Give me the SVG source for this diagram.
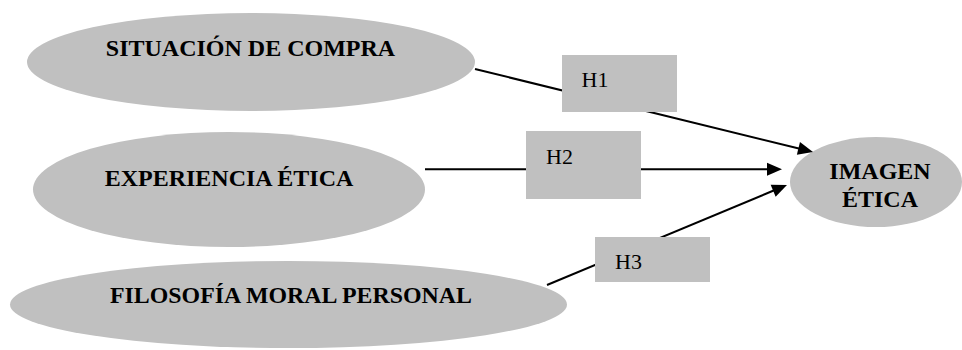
<svg xmlns="http://www.w3.org/2000/svg" width="962" height="350" viewBox="0 0 962 350">
  <style>
    .node { fill: #c0c0c0; stroke: none; }
    .lbl { font-family: "Liberation Serif", "Times New Roman", serif; font-size: 24px; font-weight: bold; fill: #000; text-anchor: middle; }
    .hyp { font-family: "Liberation Serif", "Times New Roman", serif; font-size: 22px; fill: #000; }
    .conn { stroke: #000; stroke-width: 2; fill: none; marker-end: url(#arrow); }
  </style>
  <defs>
    <marker id="arrow" markerUnits="userSpaceOnUse" markerWidth="15" markerHeight="13" refX="11" refY="6.5" orient="auto" overflow="visible">
      <path d="M0,0 L15,6.5 L0,13 Z" fill="#000"/>
    </marker>
  </defs>
  <rect width="962" height="350" fill="#fff"/>

  <g id="situacion-de-compra">
    <ellipse class="node" cx="251" cy="62" rx="224" ry="49"/>
    <text class="lbl" x="250.5" y="56">SITUACIÓN DE COMPRA</text>
  </g>
  <g id="experiencia-etica">
    <ellipse class="node" cx="229" cy="189.5" rx="196" ry="57.5"/>
    <text class="lbl" x="229" y="186">EXPERIENCIA ÉTICA</text>
  </g>
  <g id="filosofia-moral-personal">
    <ellipse class="node" cx="288.5" cy="304.5" rx="278.5" ry="43.5"/>
    <text class="lbl" x="291" y="303" textLength="362" lengthAdjust="spacingAndGlyphs">FILOSOFÍA MORAL PERSONAL</text>
  </g>
  <g id="imagen-etica">
    <ellipse class="node" cx="876" cy="182" rx="86" ry="45"/>
    <text class="lbl" x="880" y="179">IMAGEN</text>
    <text class="lbl" x="880" y="207">ÉTICA</text>
  </g>

  <g id="connectors">
    <line class="conn" x1="475" y1="69" x2="809.1" y2="151"/>
    <line class="conn" x1="425" y1="169.3" x2="778" y2="169.3"/>
    <line class="conn" x1="547" y1="285" x2="783.3" y2="186.5"/>
  </g>

  <g id="h1">
    <rect class="node" x="562" y="55" width="115" height="57"/>
    <text class="hyp" x="581.5" y="86.7">H1</text>
  </g>
  <g id="h2">
    <rect class="node" x="526" y="131" width="115" height="68"/>
    <text class="hyp" x="546" y="164">H2</text>
  </g>
  <g id="h3">
    <rect class="node" x="595" y="237" width="115" height="45"/>
    <text class="hyp" x="615" y="269.3">H3</text>
  </g>
</svg>
